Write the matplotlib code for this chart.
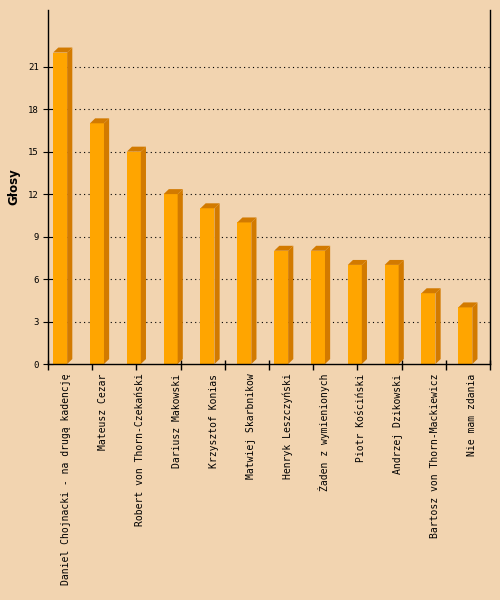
"""Vote counts per candidate, drawn as jpgraph-style 3D bars."""

import matplotlib

matplotlib.use("Agg")
import matplotlib.pyplot as plt
from matplotlib.patches import Polygon


candidates = [
    "Daniel Chojnacki - na drugą kadencję",
    "Mateusz Cezar",
    "Robert von Thorn-Czekański",
    "Dariusz Makowski",
    "Krzysztof Konias",
    "Matwiej Skarbnikow",
    "Henryk Leszczyński",
    "Żaden z wymienionych",
    "Piotr Kościński",
    "Andrzej Dzikowski",
    "Bartosz von Thorn-Mackiewicz",
    "Nie mam zdania",
]
votes = [22, 17, 15, 12, 11, 10, 8, 8, 7, 7, 5, 4]
y_ticks = list(range(0, 22, 3))

BACKGROUND = "#F2D4B0"
FRONT = "#FFA500"
SHADE = "#D27A00"
FONT = "DejaVu Sans Mono"

fig = plt.figure(figsize=(5, 6), dpi=100, facecolor=BACKGROUND)
ax = fig.add_axes([0.096, 0.3933, 0.884, 0.59])
ax.set_facecolor(BACKGROUND)

n = len(votes)
ax.set_xlim(-0.5, n - 0.5)
ax.set_ylim(0, 25)

# 3D bar geometry in data units
left_off, right_off = -0.36, 0.02
depth_x, depth_y = 0.14, 0.35

for i, value in enumerate(votes):
    x0, x1 = i + left_off, i + right_off
    ax.add_patch(Polygon([(x0, 0), (x1, 0), (x1, value), (x0, value)],
                         closed=True, facecolor=FRONT, edgecolor="none", zorder=2))
    ax.add_patch(Polygon([(x1, 0), (x1 + depth_x, depth_y), (x1 + depth_x, value + depth_y), (x1, value)],
                         closed=True, facecolor=SHADE, edgecolor="none", zorder=2))
    ax.add_patch(Polygon([(x0, value), (x1, value), (x1 + depth_x, value + depth_y), (x0 + depth_x, value + depth_y)],
                         closed=True, facecolor=SHADE, edgecolor="none", zorder=2))

for y in y_ticks[1:]:
    ax.axhline(y, color="black", linewidth=0.8, linestyle=(0, (1, 3)), zorder=1)

ax.set_yticks(y_ticks)
ax.set_yticklabels([str(t) for t in y_ticks], fontfamily=FONT, fontsize=6.5)
ax.tick_params(axis="y", direction="inout", length=7, width=0.8, pad=3)

# category labels sit at bar centres, tick marks on a separate 10-step grid
ax.set_xticks(range(n))
ax.set_xticklabels(candidates, rotation=90, fontfamily=FONT, fontsize=7, va="top", ha="center")
ax.tick_params(axis="x", which="major", length=0, pad=7)
tick_marks = [-0.5 + k * n / 10 for k in range(11)]
ax.vlines(tick_marks, -0.018, 0.012, transform=ax.get_xaxis_transform(),
          colors="black", linewidth=1.0, clip_on=False, zorder=1.5)

ax.set_ylabel("Głosy", fontweight="bold", fontsize=8.5, labelpad=6)

ax.spines["top"].set_visible(False)
for side in ("left", "right", "bottom"):
    ax.spines[side].set_linewidth(1.0)
    ax.spines[side].set_zorder(4)

fig.savefig("out.png", dpi=100, facecolor=BACKGROUND)
